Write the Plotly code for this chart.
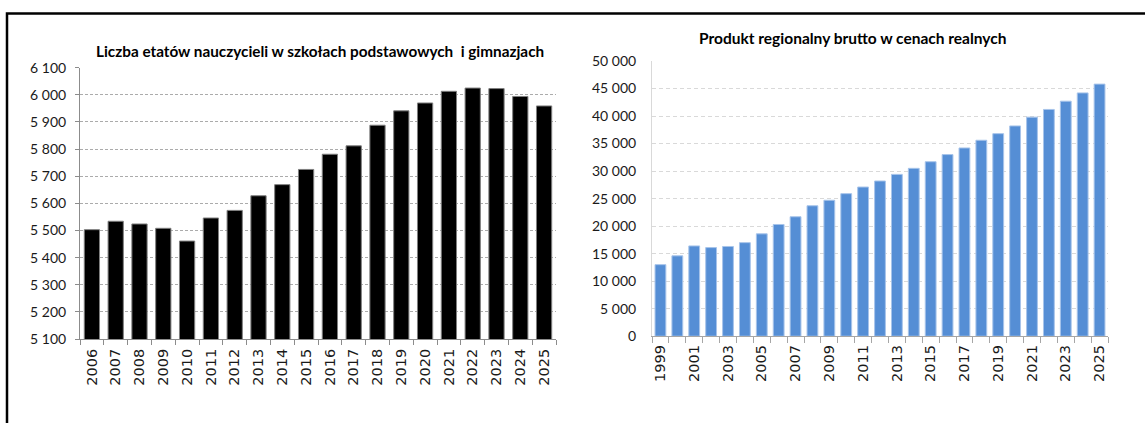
import plotly.graph_objects as go

# liczba etatów nauczycieli
lata_etaty = [str(r) for r in range(2006, 2026)]
etaty = [5503, 5534, 5524, 5508, 5461, 5546, 5574, 5628, 5669, 5725,
         5781, 5812, 5888, 5941, 5970, 6013, 6025, 6023, 5994, 5959]

# PKB regionalny w cenach realnych
lata_pkb = [str(r) for r in range(1999, 2026)]
pkb = [13000, 14600, 16400, 16100, 16300, 17000, 18600, 20300, 21700, 23700,
       24700, 25900, 27100, 28200, 29400, 30500, 31700, 33000, 34200, 35600,
       36800, 38200, 39800, 41200, 42700, 44200, 45800]
etykiety_pkb = [r if i % 2 == 0 else "" for i, r in enumerate(lata_pkb)]

W, H = 1145, 423


def px_x(p):
    return p / W


def px_y(p):
    return 1 - p / H


fig = go.Figure()

fig.add_trace(go.Bar(
    x=lata_etaty, y=etaty, marker_color='black',
    marker_line=dict(color='#7f7f7f', width=1),
    xaxis='x', yaxis='y', showlegend=False))

fig.add_trace(go.Bar(
    x=lata_pkb, y=pkb, marker_color='#558ED5',
    marker_line=dict(color='#a7c4ea', width=1),
    xaxis='x2', yaxis='y2', showlegend=False))

tick_x = dict(family='DejaVu Sans', size=14.5, color='#1a1a1a')
tick_y = dict(family='Lato', size=14, color='#1a1a1a')

fig.update_layout(
    width=W, height=H,
    margin=dict(l=0, r=0, t=0, b=0, autoexpand=False),
    paper_bgcolor='white', plot_bgcolor='white',
    separators=', ',
    bargap=0.36,
    xaxis=dict(domain=[px_x(80), px_x(556)], type='category',
               tickangle=-90, tickfont=tick_x, tickson='boundaries',
               ticks='outside', ticklen=5, tickcolor='#8c8c8c',
               ticklabelstandoff=3,
               showline=True, linecolor='#8c8c8c', linewidth=1,
               showgrid=False, automargin=False, anchor='y'),
    yaxis=dict(domain=[px_y(339), px_y(67.7)], range=[5100, 6100],
               dtick=100, tickformat=',d', tickfont=tick_y,
               ticks='outside', ticklen=4, tickcolor='#8c8c8c',
               ticklabelstandoff=6,
               showline=True, linecolor='#8c8c8c', linewidth=1,
               showgrid=True, gridcolor='#ababab', griddash='3px,2px',
               zeroline=False, automargin=False, anchor='x'),
    xaxis2=dict(domain=[px_x(652), px_x(1108)], type='category',
                tickmode='array', tickvals=lata_pkb, ticktext=etykiety_pkb,
                tickangle=-90, tickfont=tick_x, tickson='boundaries',
                ticks='outside', ticklen=6, tickcolor='#a6a6a6',
                ticklabelstandoff=2,
                showline=True, linecolor='#a6a6a6', linewidth=1,
                showgrid=False, automargin=False, anchor='y2'),
    yaxis2=dict(domain=[px_y(336.2), px_y(61)], range=[0, 50000],
                dtick=5000, tickformat=',d', tickfont=tick_y,
                ticks='', ticklabelstandoff=12,
                showline=True, linecolor='#d9d9d9', linewidth=1,
                showgrid=True, gridcolor='#d9d9d9', griddash='4px,3px',
                zeroline=False, automargin=False, anchor='x2'),
)

fig.add_annotation(
    text='Liczba etatów nauczycieli w szkołach podstawowych  i gimnazjach',
    x=px_x(320), y=px_y(51), xref='paper', yref='paper',
    xanchor='center', yanchor='middle', showarrow=False,
    font=dict(family='Lato', size=15.3, color='black', weight='bold'))

fig.add_annotation(
    text='Produkt regionalny brutto w cenach realnych',
    x=px_x(853), y=px_y(38.5), xref='paper', yref='paper',
    xanchor='center', yanchor='middle', showarrow=False,
    font=dict(family='Lato', size=15.5, color='black', weight='bold'))

# ramka wokół wykresów
fig.add_shape(type='rect', xref='paper', yref='paper',
              x0=px_x(7), x1=1.05, y0=-0.05, y1=px_y(13.5),
              line=dict(color='black', width=2.5))

fig.write_html("out.html", config={'displayModeBar': False},
               post_script="document.body.style.margin='0';")
